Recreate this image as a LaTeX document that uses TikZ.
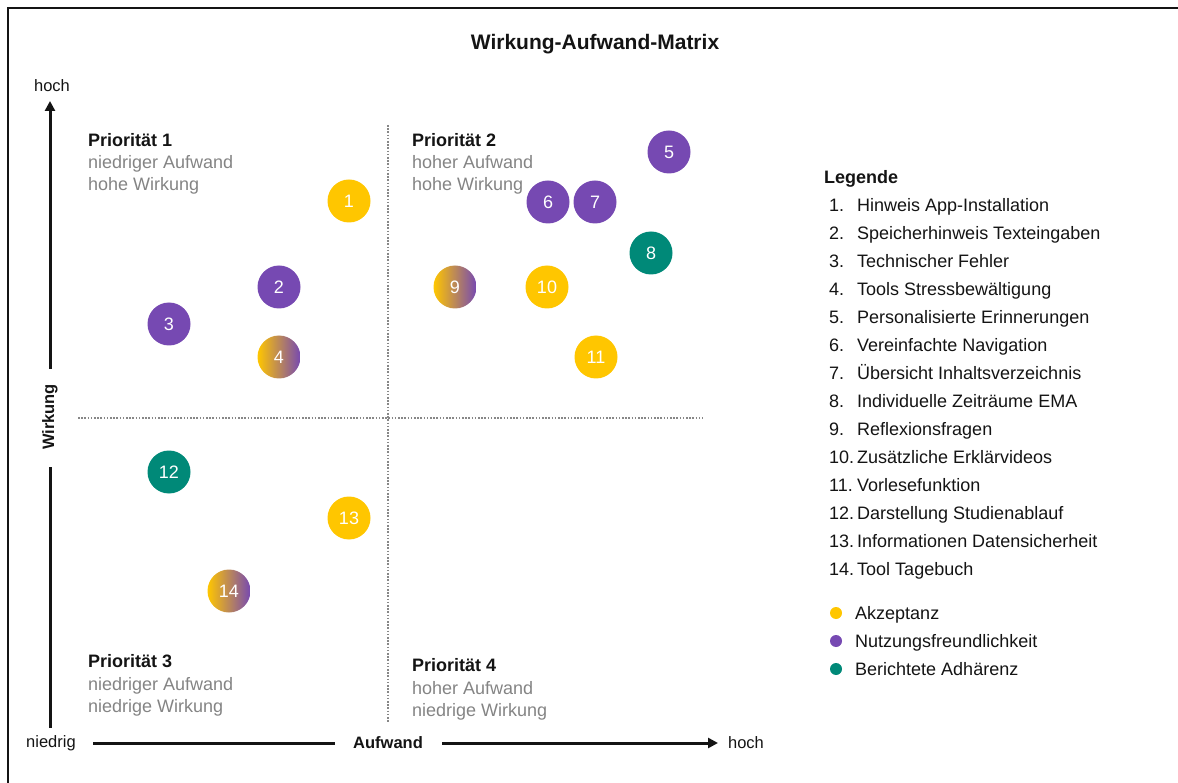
\documentclass[tikz,border=0pt]{standalone}
\usepackage{fontspec}
\setmainfont{Liberation Sans}
\usetikzlibrary{arrows.meta}

\definecolor{akz}{RGB}{255,198,0}
\definecolor{nutz}{RGB}{118,73,178}
\definecolor{adh}{RGB}{0,137,120}
\definecolor{mixmid}{RGB}{232,208,196}
\definecolor{subgray}{RGB}{132,132,132}
\definecolor{gridgray}{RGB}{135,135,135}
\definecolor{ink}{RGB}{20,20,20}

\begin{document}
\begin{tikzpicture}[x=1pt,y=-1pt,
  base/.style={inner sep=0pt, text=ink},
  body/.style={base, font=\fontsize{18}{21}\selectfont},
  axislabel/.style={base, font=\fontsize{16.5}{19}\selectfont},
  head/.style={body, font=\fontsize{18}{21}\selectfont\bfseries, anchor=base west},
  sub/.style={body, text=subgray, anchor=base west},
  axisline/.style={line width=3pt, draw=ink},
  axisarrow/.style={axisline, -{Triangle[length=10pt,width=10pt]}},
  grid/.style={draw=gridgray, line width=2pt, dash pattern=on 1.6pt off 1.6pt},
  bubble/.style={circle, minimum size=43pt, inner sep=0pt, text=white,
                 font=\fontsize{18}{21}\selectfont},
  yel/.style={bubble, fill=akz},
  pur/.style={bubble, fill=nutz},
  tea/.style={bubble, fill=adh},
  mix/.style={bubble, left color=akz, middle color=mixmid, right color=nutz},
  legnum/.style={body, anchor=base west},
  legdot/.style={circle, minimum size=12pt, inner sep=0pt},
]
\useasboundingbox (0,0) rectangle (1178,783);
\begin{scope}
\clip (0,0) rectangle (1178,783);
\draw[ink, line width=2pt] (8,8) rectangle (1200,800);
\end{scope}

% title
\node[base, font=\fontsize{21}{25}\selectfont\bfseries] (title) at (595,44) {Wirkung-Aufwand-Matrix};

% quadrant separators
\coordinate (vtop) at (388,125);
\coordinate (vbot) at (388,722);
\coordinate (hleft) at (78,418);
\coordinate (hright) at (703,418);
\draw[grid] (vtop) -- (vbot);
\draw[grid] (hleft) -- (hright);

% vertical axis
\node[axislabel] (yhigh) at (52,86) {hoch};
\node[axislabel, font=\fontsize{16.5}{19}\selectfont\bfseries, rotate=90] (ylab) at (50,417) {Wirkung};
\coordinate (ytip) at (50,101);
\coordinate (yupper) at (50,369);
\coordinate (ylower) at (50,467);
\coordinate (ybot) at (50,728);
\draw[axisarrow] (yupper) -- (ytip);
\draw[axisline] (ylower) -- (ybot);

% horizontal axis
\node[axislabel] (xlow) at (51,743) {niedrig};
\node[axislabel, font=\fontsize{16.5}{19}\selectfont\bfseries] (xlab) at (388,743) {Aufwand};
\node[axislabel] (xhigh) at (746,743) {hoch};
\coordinate (xleft) at (93,743);
\coordinate (xmidl) at (335,743);
\coordinate (xmidr) at (442,743);
\coordinate (xtip) at (718,743);
\draw[axisline] (xleft) -- (xmidl);
\draw[axisarrow] (xmidr) -- (xtip);

% quadrant captions
\node[head] (p1) at (88,147) {Priorität 1};
\node[sub] (p1a) at (88,169) {niedriger Aufwand};
\node[sub] (p1b) at (88,191) {hohe Wirkung};

\node[head] (p2) at (412,147) {Priorität 2};
\node[sub] (p2a) at (412,169) {hoher Aufwand};
\node[sub] (p2b) at (412,191) {hohe Wirkung};

\node[head] (p3) at (88,667) {Priorität 3};
\node[sub] (p3a) at (88,690) {niedriger Aufwand};
\node[sub] (p3b) at (88,712) {niedrige Wirkung};

\node[head] (p4) at (412,671) {Priorität 4};
\node[sub] (p4a) at (412,694) {hoher Aufwand};
\node[sub] (p4b) at (412,716) {niedrige Wirkung};

% measures
\node[yel] (m1) at (349,201) {1};
\node[pur] (m2) at (279,287) {2};
\node[pur] (m3) at (169,324) {3};
\node[mix] (m4) at (279,357) {4};
\node[pur] (m5) at (669,152) {5};
\node[pur] (m6) at (548,202) {6};
\node[pur] (m7) at (595,202) {7};
\node[tea] (m8) at (651,253) {8};
\node[mix] (m9) at (455,287) {9};
\node[yel] (m10) at (547,287) {10};
\node[yel] (m11) at (596,357) {11};
\node[tea] (m12) at (169,472) {12};
\node[yel] (m13) at (349,518) {13};
\node[mix] (m14) at (229,591) {14};

% legend
\node[head] (leg) at (824,184) {Legende};
\foreach \i/\t in {1/Hinweis App-Installation,
                   2/Speicherhinweis Texteingaben,
                   3/Technischer Fehler,
                   4/Tools Stressbewältigung,
                   5/Personalisierte Erinnerungen,
                   6/Vereinfachte Navigation,
                   7/Übersicht Inhaltsverzeichnis,
                   8/Individuelle Zeiträume EMA,
                   9/Reflexionsfragen,
                   10/Zusätzliche Erklärvideos,
                   11/Vorlesefunktion,
                   12/Darstellung Studienablauf,
                   13/Informationen Datensicherheit,
                   14/Tool Tagebuch}{
  \node[legnum] (ln\i) at (829,{212+27.95*(\i-1)}) {\i.};
  \node[legnum] (lt\i) at (857,{212+27.95*(\i-1)}) {\t};
}

\node[legdot, fill=akz] (d1) at (836,613) {};
\node[legdot, fill=nutz] (d2) at (836,641) {};
\node[legdot, fill=adh] (d3) at (836,669) {};
\node[legnum] (k1) at (855,619) {Akzeptanz};
\node[legnum] (k2) at (855,647) {Nutzungsfreundlichkeit};
\node[legnum] (k3) at (855,675) {Berichtete Adhärenz};
\end{tikzpicture}
\end{document}
